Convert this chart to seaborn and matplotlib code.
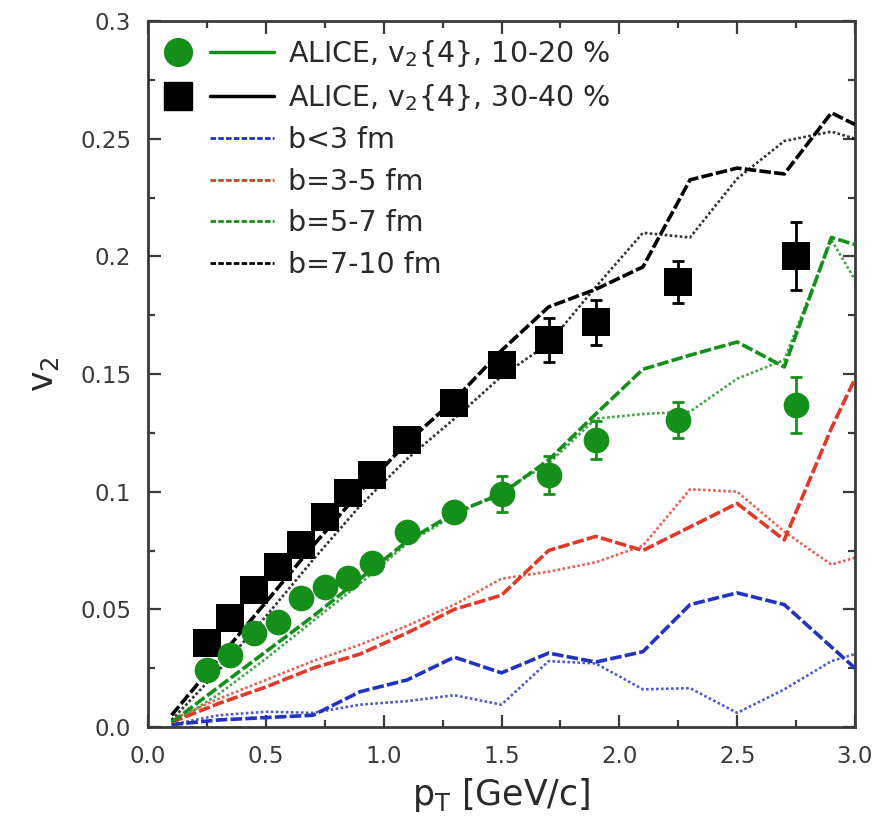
import numpy as np
import pandas as pd
import matplotlib
matplotlib.use("Agg")
import matplotlib.pyplot as plt
from matplotlib.lines import Line2D
from matplotlib.legend_handler import HandlerTuple
from matplotlib.ticker import MultipleLocator, FixedLocator, FixedFormatter
import seaborn as sns

# ---- ALICE v2{4} data ----
alice_pt = [0.25, 0.35, 0.45, 0.55, 0.65, 0.75, 0.85, 0.95, 1.1, 1.3, 1.5, 1.7, 1.9, 2.25, 2.75]
alice_1020 = [0.0242, 0.0306, 0.040, 0.0446, 0.0548, 0.0595, 0.0633, 0.0697, 0.0829, 0.0914,
              0.099, 0.107, 0.122, 0.1305, 0.1368]
alice_1020_err = [0, 0, 0, 0, 0, 0, 0, 0, 0.002, 0.004, 0.0077, 0.008, 0.008, 0.0077, 0.012]
alice_3040 = [0.0357, 0.0463, 0.0582, 0.068, 0.0773, 0.0892, 0.0994, 0.107, 0.122, 0.1377,
              0.1538, 0.1645, 0.172, 0.189, 0.200]
alice_3040_err = [0, 0, 0, 0, 0, 0, 0, 0, 0.002, 0.003, 0.005, 0.0095, 0.0095, 0.009, 0.0145]

# ---- model curves ----
model_pt = [0.1, 0.3, 0.5, 0.7, 0.9, 1.1, 1.3, 1.5, 1.7, 1.9, 2.1, 2.3, 2.5, 2.7, 2.9, 3.0]
b03_dash = [0.001, 0.003, 0.004, 0.005, 0.015, 0.020, 0.0297, 0.023, 0.0314, 0.0276, 0.032,
            0.052, 0.057, 0.052, 0.034, 0.025]
b03_dot = [0.001, 0.005, 0.0065, 0.006, 0.0095, 0.011, 0.0135, 0.0095, 0.028, 0.027, 0.016,
           0.0165, 0.006, 0.016, 0.028, 0.031]
b35_dash = [0.002, 0.010, 0.017, 0.025, 0.031, 0.040, 0.050, 0.056, 0.075, 0.081, 0.075,
            0.085, 0.095, 0.0795, 0.127, 0.148]
b35_dot = [0.003, 0.012, 0.020, 0.028, 0.035, 0.043, 0.052, 0.063, 0.066, 0.070, 0.077,
           0.101, 0.100, 0.083, 0.069, 0.072]
b57_dash = [0.002, 0.017, 0.032, 0.047, 0.063, 0.079, 0.091, 0.099, 0.1135, 0.133, 0.152,
            0.158, 0.1636, 0.153, 0.208, 0.205]
b57_dot = [0.001, 0.014, 0.029, 0.045, 0.061, 0.078, 0.090, 0.100, 0.112, 0.131, 0.133,
           0.134, 0.148, 0.156, 0.207, 0.190]
b710_dash = [0.005, 0.029, 0.053, 0.077, 0.100, 0.121, 0.139, 0.160, 0.1785, 0.186, 0.1955,
             0.2325, 0.2375, 0.235, 0.261, 0.256]
b710_dot = [0.003, 0.024, 0.047, 0.071, 0.094, 0.114, 0.131, 0.149, 0.163, 0.187, 0.210,
            0.208, 0.233, 0.249, 0.253, 0.250]

b_labels = ["b<3 fm", "b=3-5 fm", "b=5-7 fm", "b=7-10 fm"]
BLUE, RED, GREEN, BLACK = "#2233c4", "#e0392a", "#14901a", "#000000"
b_colors = [BLUE, RED, GREEN, BLACK]

sns.set_theme(style="white")
plt.rcParams["font.family"] = ["DejaVu Sans"]
plt.rcParams["mathtext.default"] = "regular"

fig = plt.figure(figsize=(8.94, 8.25), dpi=100)
ax = fig.add_axes([148 / 894, 98 / 825, 707 / 894, 706 / 825])

DASH = (0, (3.2, 0.9))
DOT = (0, (1.0, 0.9))

curves = [(b03_dash, b03_dot), (b35_dash, b35_dot), (b57_dash, b57_dot), (b710_dash, b710_dot)]
for (dash_vals, dot_vals), col in zip(curves, b_colors):
    sns.lineplot(x=model_pt, y=dot_vals, ax=ax, color=col, lw=1.9, linestyle=DOT,
                 sort=False, estimator=None, alpha=0.8, zorder=2)
    sns.lineplot(x=model_pt, y=dash_vals, ax=ax, color=col, lw=2.6, linestyle=DASH,
                 sort=False, estimator=None, zorder=3)

# error bars then markers
ax.errorbar(alice_pt, alice_3040, yerr=alice_3040_err, fmt="none", ecolor=BLACK,
            elinewidth=2.0, capsize=4.3, capthick=2.0, zorder=4)
ax.errorbar(alice_pt, alice_1020, yerr=alice_1020_err, fmt="none", ecolor=GREEN,
            elinewidth=2.0, capsize=4.3, capthick=2.0, zorder=4)
sns.scatterplot(x=alice_pt, y=alice_3040, ax=ax, marker="s", s=19.5 ** 2, color=BLACK,
                edgecolor=BLACK, linewidth=0, zorder=5)
sns.scatterplot(x=alice_pt, y=alice_1020, ax=ax, marker="o", s=18.5 ** 2, color=GREEN,
                edgecolor=GREEN, linewidth=0, zorder=5)

ax.set_xlim(0, 3.0)
ax.set_ylim(0, 0.3)

xt = [0.0, 0.5, 1.0, 1.5, 2.0, 2.5, 3.0]
yt = [0.0, 0.05, 0.1, 0.15, 0.2, 0.25, 0.3]
ax.xaxis.set_major_locator(FixedLocator(xt))
ax.xaxis.set_major_formatter(FixedFormatter(["0.0", "0.5", "1.0", "1.5", "2.0", "2.5", "3.0"]))
ax.yaxis.set_major_locator(FixedLocator(yt))
ax.yaxis.set_major_formatter(FixedFormatter(["0.0", "0.05", "0.1", "0.15", "0.2", "0.25", "0.3"]))
ax.xaxis.set_minor_locator(MultipleLocator(0.25))
ax.yaxis.set_minor_locator(MultipleLocator(0.025))

SPINE = "#3a3a3a"
ax.tick_params(which="both", direction="in", top=True, right=True, bottom=True, left=True,
               color=SPINE, width=1.6, labelsize=16.5, labelcolor="#3a3a3a")
ax.tick_params(which="major", length=9)
ax.tick_params(which="minor", length=5)
ax.tick_params(axis="x", which="major", pad=13)
ax.tick_params(axis="y", which="major", pad=12)
for s in ax.spines.values():
    s.set_color(SPINE)
    s.set_linewidth(2.0)
ax.grid(False)

ax.set_xlabel("p$_{T}$ [GeV/c]", fontsize=25, color="#2a2a2a", labelpad=6)
ax.set_ylabel("v$_{2}$", fontsize=25, color="#2a2a2a", labelpad=14)

# legend: marker + line pairs for data, blank + line for model curves
blank = Line2D([], [], linestyle="none", marker=None)
h_1020 = (Line2D([], [], linestyle="none", marker="o", markersize=20, color=GREEN),
          Line2D([], [], color=GREEN, lw=2.5))
h_3040 = (Line2D([], [], linestyle="none", marker="s", markersize=19.5, color=BLACK),
          Line2D([], [], color=BLACK, lw=2.5))
handles = [h_1020, h_3040]
for col in b_colors:
    handles.append((blank, Line2D([], [], color=col, lw=2.0, linestyle=(0, (2.0, 0.8)))))
labels = ["ALICE, v$_{2}${4}, 10-20 %", "ALICE, v$_{2}${4}, 30-40 %"] + b_labels

ax.legend(handles, labels, handler_map={tuple: HandlerTuple(ndivide=None, pad=0.0)},
          loc="upper left", bbox_to_anchor=(-0.003, 0.9765), frameon=False,
          fontsize=20.5, handlelength=4.5, handletextpad=0.5, labelspacing=0.47,
          borderpad=0.0, borderaxespad=0.0, labelcolor="#2a2a2a")

fig.savefig("out.png", dpi=100)
